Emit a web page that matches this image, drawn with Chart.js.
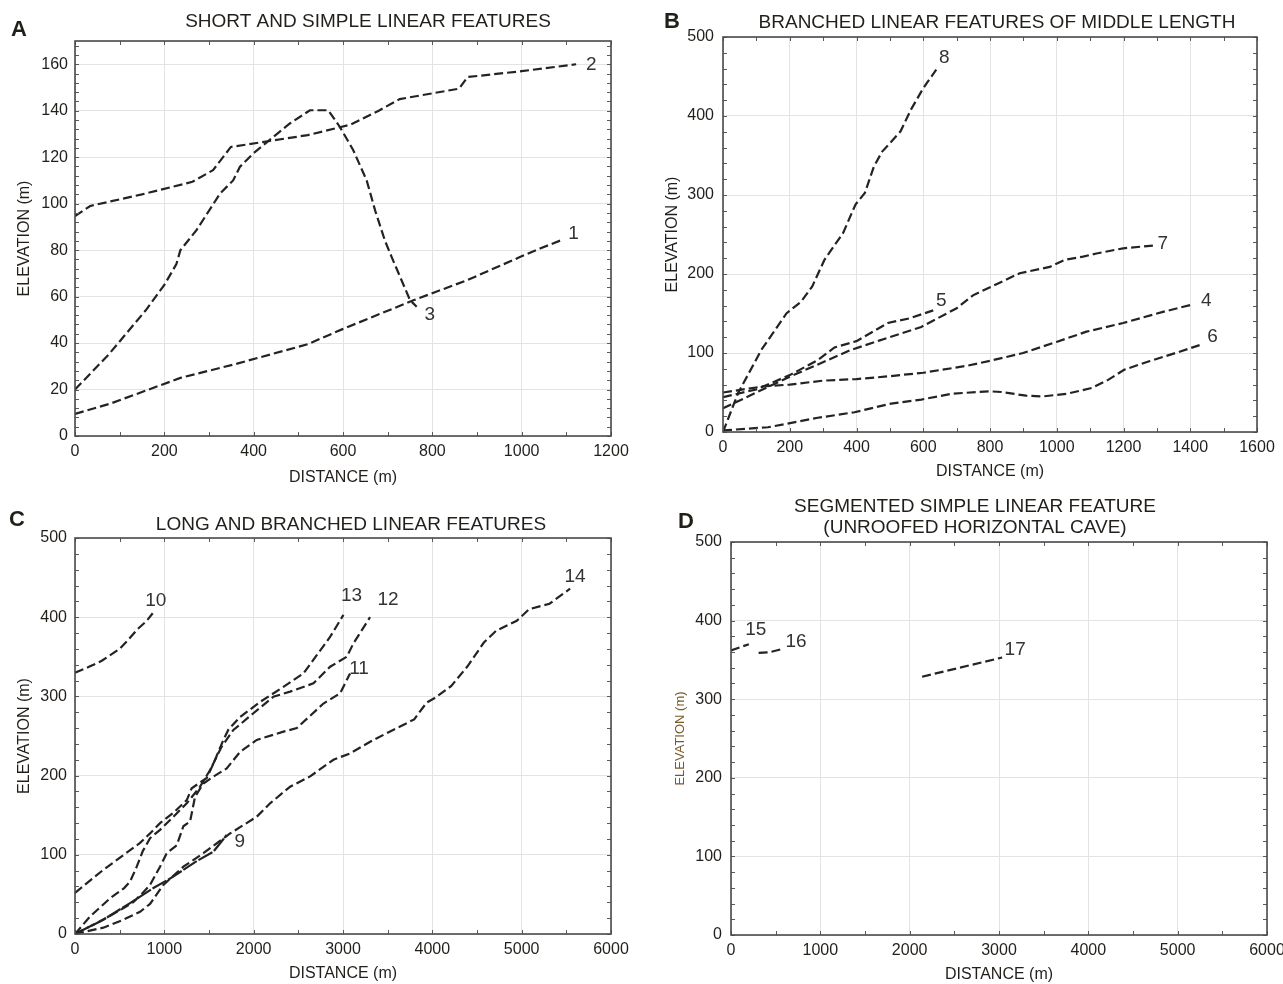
<!DOCTYPE html>
<html>
<head>
<meta charset="utf-8">
<script src="https://cdn.jsdelivr.net/npm/chart.js@4.4.1/dist/chart.umd.min.js"></script>
<style>
html, body { margin: 0; padding: 0; background: #fff; overflow: hidden; width: 1283px; height: 984px; }
canvas { position: absolute; }
</style>
</head>
<body>
<canvas id="chartA" style="left:0;top:0" width="640" height="490"></canvas>
<canvas id="chartB" style="left:640px;top:0" width="643" height="490"></canvas>
<canvas id="chartC" style="left:0;top:490px" width="640" height="494"></canvas>
<canvas id="chartD" style="left:640px;top:490px" width="690" height="494"></canvas>
<script>
// panel A - short and simple
var dist1 = [0, 80, 236, 360, 521, 599, 759, 877, 996, 1041, 1089];
var elev1 = [9.5, 14, 25, 31, 39.5, 46, 58.5, 67, 77, 80.7, 84.3];
var dist2 = [0, 34, 150, 263, 309, 349, 521, 617, 680, 727, 860, 879, 1000, 1122];
var elev2 = [94.6, 99, 104, 109.4, 114.4, 124.4, 129.5, 134, 140, 145, 149.5, 154.5, 157, 160];
var dist3 = [0, 75, 158, 200, 227, 236, 272, 325, 354, 369, 399, 444, 481, 526, 567, 593, 623, 653, 672, 694, 709, 750, 765];
var elev3 = [20, 35, 54, 65, 74, 80, 88.6, 104.4, 110, 115.8, 121.6, 128.7, 134.5, 140.2, 140.2, 133, 123, 110, 97, 84, 77, 58.5, 55.6];

// panel B - branched, middle length
var dist4 = [0, 125, 200, 300, 400, 484, 600, 733, 809, 899, 999, 1089, 1199, 1318, 1403];
var elev4 = [50, 58, 60, 65, 67, 70, 75, 84, 91, 100, 114, 127, 138, 152, 161];
var dist5 = [0, 100, 200, 284, 334, 400, 494, 560, 630];
var elev5 = [44, 54, 72, 91, 107, 115, 138, 144, 154];
var dist6 = [0, 135, 284, 394, 504, 594, 686, 797, 834, 908, 957, 1031, 1105, 1154, 1203, 1277, 1368, 1428];
var elev6 = [2, 6, 18, 25, 36, 41, 48.5, 51.5, 50.6, 46, 45, 48.5, 55.7, 66, 79, 89.5, 101.6, 110];
var dist7 = [0, 100, 200, 249, 384, 470, 594, 700, 749, 889, 979, 1024, 1079, 1119, 1199, 1288];
var elev7 = [30, 50, 70, 79, 104, 116, 133, 156.6, 173, 201, 209, 218, 222, 226, 232.5, 236];
var dist8 = [0, 45, 115, 190, 234, 267, 304, 360, 397, 425, 452, 477, 501, 532, 563, 597, 612, 639];
var elev8 = [0, 49, 104, 150, 165, 184, 218, 252, 288, 302.5, 336, 355, 366, 380.6, 408, 433, 442.6, 458.6];

// panel C - long and branched
var dist9 = [0, 317, 616, 877, 1064, 1362, 1550, 1698];
var elev9 = [0, 18, 39, 58, 70, 92, 104, 125];
var dist10 = [0, 150, 300, 500, 600, 700, 800, 870];
var elev10 = [330, 337, 345, 360, 372, 385, 395, 405];
var dist11 = [0, 280, 504, 650, 760, 840, 952, 1027, 1139, 1213, 1288, 1344, 1437, 1549, 1698, 1848, 2034, 2333, 2483, 2781, 2968, 3079];
var elev11 = [0, 16, 30, 40, 52, 62, 85, 102, 112, 136, 142, 173.5, 190, 198.7, 209, 230, 245, 255.5, 260, 291, 304, 329];
var dist12 = [0, 168, 392, 550, 616, 691, 760, 840, 952, 1101, 1251, 1400, 1512, 1642, 1773, 1997, 2221, 2408, 2669, 2856, 3042, 3117, 3303];
var elev12 = [0, 22, 45, 58, 66, 85, 105, 121, 131.5, 148, 165, 186, 207, 236.6, 257.6, 278.7, 299.6, 306, 316.5, 337.5, 350, 367, 400];
var dist13 = [0, 317, 728, 840, 952, 1101, 1251, 1306, 1475, 1549, 1661, 1717, 1848, 2072, 2333, 2557, 2706, 2855, 3005];
var elev13 = [52, 81, 115, 127, 140, 153, 169, 184, 197, 215, 245, 258, 274, 293, 312, 329, 352, 375, 403];
var dist14 = [0, 317, 541, 728, 840, 989, 1213, 1437, 1736, 2034, 2184, 2408, 2632, 2893, 3079, 3340, 3639, 3797, 3935, 4027, 4210, 4394, 4577, 4715, 4945, 5083, 5312, 5542];
var elev14 = [0, 8, 18, 28, 38, 62, 85, 102, 127, 148, 165, 186, 199, 220, 228, 245, 262, 271, 292, 298, 313, 338, 368, 383, 395.5, 410, 417, 436];

// panel D - segmented cave
var dist15 = [0, 200];
var elev15 = [362, 370];
var dist16 = [309, 421, 571];
var elev16 = [359, 359.5, 363.8];
var dist17 = [2139, 3035];
var elev17 = [328.6, 353];

var FONT = "'Liberation Sans', Arial, sans-serif";
var INK = '#221f1b';

function series(dist, elev) {
    return dist.map(function (d, i) { return { x: d, y: elev[i] }; });
}

// box around the plot with small inward ticks
var framePlugin = {
    id: 'frame',
    afterDraw: function (chart, args, opts) {
        var ctx = chart.ctx, a = chart.chartArea;
        var xs = chart.scales.x, ys = chart.scales.y;
        ctx.save();
        ctx.strokeStyle = '#5a5a5a';
        ctx.lineWidth = 1;
        ctx.beginPath();
        for (var v = xs.min; v <= xs.max + 1e-9; v += opts.xMinor) {
            var px = Math.round(xs.getPixelForValue(v)) + 0.5;
            ctx.moveTo(px, a.bottom); ctx.lineTo(px, a.bottom - 4);
            ctx.moveTo(px, a.top); ctx.lineTo(px, a.top + 4);
        }
        for (var w = ys.min; w <= ys.max + 1e-9; w += opts.yMinor) {
            var py = Math.round(ys.getPixelForValue(w)) + 0.5;
            ctx.moveTo(a.left, py); ctx.lineTo(a.left + 4, py);
            ctx.moveTo(a.right, py); ctx.lineTo(a.right - 4, py);
        }
        ctx.stroke();
        ctx.strokeStyle = '#4a4a4a';
        ctx.lineWidth = 1.6;
        ctx.strokeRect(a.left, a.top, a.right - a.left, a.bottom - a.top);
        ctx.restore();
    }
};

// number written next to the end of each line
var endLabelPlugin = {
    id: 'endLabels',
    afterDatasetsDraw: function (chart, args, opts) {
        var ctx = chart.ctx;
        ctx.save();
        ctx.font = '19px ' + FONT;
        ctx.fillStyle = '#333';
        ctx.textAlign = 'center';
        ctx.textBaseline = 'middle';
        chart.data.datasets.forEach(function (ds, i) {
            var pts = chart.getDatasetMeta(i).data;
            var last = pts[pts.length - 1];
            var off = opts.offsets[i];
            ctx.fillText(ds.label, last.x + off[0], last.y + off[1]);
        });
        ctx.restore();
    }
};

// panel title and letter
var headingPlugin = {
    id: 'heading',
    afterDraw: function (chart, args, opts) {
        var ctx = chart.ctx;
        ctx.save();
        ctx.fillStyle = INK;
        ctx.textAlign = 'center';
        ctx.textBaseline = 'middle';
        ctx.font = 'bold 22px ' + FONT;
        ctx.fillText(opts.letter, opts.letterPos[0], opts.letterPos[1]);
        ctx.font = '19px ' + FONT;
        opts.lines.forEach(function (t, i) {
            ctx.fillText(t, opts.titlePos[0], opts.titlePos[1] + i * 21);
        });
        ctx.restore();
    }
};

function drawPanel(id, cfg) {
    var canvas = document.getElementById(id);
    var W = canvas.width, H = canvas.height, area = cfg.area;
    var datasets = cfg.lines.map(function (l) {
        return {
            label: l.name,
            data: series(l.dist, l.elev),
            borderColor: '#232323',
            borderWidth: 2.2,
            borderDash: l.dash || [9, 4],
            pointRadius: 0,
            tension: 0,
            fill: false
        };
    });
    function plain(step) {
        return function (v) { return v % step === 0 ? String(v) : ''; };
    }
    return new Chart(canvas, {
        type: 'line',
        data: { datasets: datasets },
        options: {
            responsive: false,
            animation: false,
            events: [],
            layout: { padding: { left: 0, top: area.top, right: W - area.right, bottom: 0 } },
            plugins: {
                legend: { display: false },
                tooltip: { enabled: false },
                frame: { xMinor: cfg.xMinor, yMinor: cfg.yMinor },
                endLabels: { offsets: cfg.lines.map(function (l) { return l.off; }) },
                heading: cfg.heading
            },
            scales: {
                x: {
                    type: 'linear', min: 0, max: cfg.xMax,
                    ticks: { stepSize: cfg.xStep, padding: cfg.xTickPad, color: INK, font: { family: FONT, size: 16 },
                             callback: plain(cfg.xStep) },
                    grid: { color: '#e3e3e3', lineWidth: 1, drawTicks: false },
                    border: { display: false },
                    title: { display: true, text: 'DISTANCE (m)', color: INK, font: { family: FONT, size: 16 },
                             padding: { top: 0, bottom: cfg.xTitlePad } },
                    afterFit: function (s) { s.height = H - area.bottom; }
                },
                y: {
                    type: 'linear', min: 0, max: cfg.yMax,
                    ticks: { stepSize: cfg.yStep, padding: cfg.yTickPad, color: INK, font: { family: FONT, size: 16 },
                             callback: plain(cfg.yStep) },
                    grid: { color: '#e3e3e3', lineWidth: 1, drawTicks: false },
                    border: { display: false },
                    title: { display: true, text: 'ELEVATION (m)', color: cfg.yTitleColor || INK,
                             font: { family: FONT, size: cfg.yTitleSize || 16 },
                             padding: { top: cfg.yTitlePad, bottom: 0 } },
                    afterFit: function (s) { s.width = area.left; }
                }
            }
        },
        plugins: [framePlugin, endLabelPlugin, headingPlugin]
    });
}

drawPanel('chartA', {
    area: { left: 75, top: 41, right: 611, bottom: 436 },
    xMax: 1200, xStep: 200, xMinor: 100, yMax: 170, yStep: 20, yMinor: 4,
    xTickPad: 6, yTickPad: 7, xTitlePad: 3, yTitlePad: 15,
    heading: { letter: 'A', letterPos: [19, 30], lines: ['SHORT AND SIMPLE LINEAR FEATURES'], titlePos: [368, 22] },
    lines: [
        { name: '1', dist: dist1, elev: elev1, off: [12, -6] },
        { name: '2', dist: dist2, elev: elev2, off: [15, 1] },
        { name: '3', dist: dist3, elev: elev3, off: [13, 8] }
    ]
});

drawPanel('chartB', {
    area: { left: 83, top: 37, right: 617, bottom: 432 },
    xMax: 1600, xStep: 200, xMinor: 100, yMax: 500, yStep: 100, yMinor: 20,
    xTickPad: 6, yTickPad: 9, xTitlePad: 9, yTitlePad: 23,
    heading: { letter: 'B', letterPos: [32, 22], lines: ['BRANCHED LINEAR FEATURES OF MIDDLE LENGTH'], titlePos: [357, 23] },
    lines: [
        { name: '4', dist: dist4, elev: elev4, off: [15, -4] },
        { name: '5', dist: dist5, elev: elev5, off: [8, -10] },
        { name: '6', dist: dist6, elev: elev6, off: [13, -8] },
        { name: '7', dist: dist7, elev: elev7, off: [10, -2] },
        { name: '8', dist: dist8, elev: elev8, off: [8, -12] }
    ]
});

drawPanel('chartC', {
    area: { left: 75, top: 48, right: 611, bottom: 444 },
    xMax: 6000, xStep: 1000, xMinor: 500, yMax: 500, yStep: 100, yMinor: 20,
    xTickPad: 6, yTickPad: 8, xTitlePad: 1, yTitlePad: 15,
    heading: { letter: 'C', letterPos: [17, 30], lines: ['LONG AND BRANCHED LINEAR FEATURES'], titlePos: [351, 35] },
    lines: [
        { name: '9', dist: dist9, elev: elev9, off: [13, 7], dash: [16, 2] },
        { name: '10', dist: dist10, elev: elev10, off: [3, -12] },
        { name: '11', dist: dist11, elev: elev11, off: [9, -5] },
        { name: '12', dist: dist12, elev: elev12, off: [18, -17] },
        { name: '13', dist: dist13, elev: elev13, off: [8, -19] },
        { name: '14', dist: dist14, elev: elev14, off: [5, -12] }
    ]
});

drawPanel('chartD', {
    area: { left: 91, top: 52, right: 627, bottom: 445 },
    xMax: 6000, xStep: 1000, xMinor: 500, yMax: 500, yStep: 100, yMinor: 20,
    xTickPad: 6, yTickPad: 9, xTitlePad: 0, yTitlePad: 33, yTitleSize: 13, yTitleColor: '#7a5a2c',
    heading: { letter: 'D', letterPos: [46, 32], lines: ['SEGMENTED SIMPLE LINEAR FEATURE', '(UNROOFED HORIZONTAL CAVE)'], titlePos: [335, 17] },
    lines: [
        { name: '15', dist: dist15, elev: elev15, off: [7, -14] },
        { name: '16', dist: dist16, elev: elev16, off: [14, -7] },
        { name: '17', dist: dist17, elev: elev17, off: [13, -8] }
    ]
});
</script>
</body>
</html>
